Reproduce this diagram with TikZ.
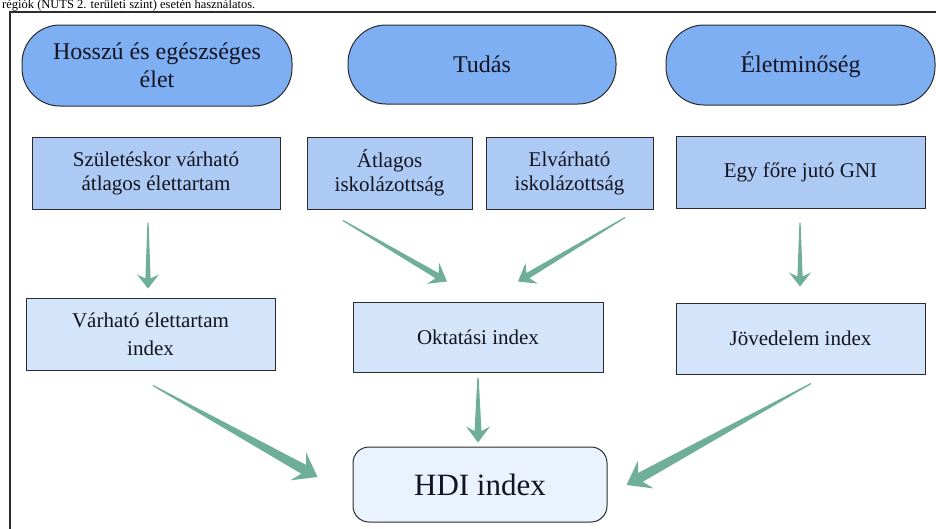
\documentclass[tikz,border=0pt]{standalone}
\usepackage{fontspec}
\setmainfont{Liberation Serif}
\usetikzlibrary{calc}
\definecolor{ellfill}{HTML}{7FAFF3}
\definecolor{boxone}{HTML}{ACCAF4}
\definecolor{boxtwo}{HTML}{D4E4FA}
\definecolor{hdifill}{HTML}{EAF2FD}
\definecolor{arrcol}{HTML}{6FAE99}
\definecolor{edgecol}{HTML}{2B2B2B}
\definecolor{txtcol}{HTML}{141420}
\newcommand\fatarrow[5]{%
  \coordinate (tB) at ($(#2)!#4!(#1)$);
  \coordinate (tJ) at ($(#2)!0.72*#4!(#1)$);
  \fill[arrcol] ($(#1)!0.6pt!90:(#2)$) -- ($(tJ)!#5!90:(#2)$) -- ($(tB)!#3!90:(#2)$) -- (#2)
    -- ($(tB)!#3!-90:(#2)$) -- ($(tJ)!#5!-90:(#2)$) -- ($(#1)!0.6pt!-90:(#2)$) -- cycle;
}
\begin{document}
\begin{tikzpicture}[x=1pt,y=-1pt,
  ell/.style={draw=edgecol, line width=1pt, fill=ellfill, rounded corners=38pt, inner sep=0pt,
    align=center, text=txtcol, font=\fontsize{24}{28}\selectfont},
  boxa/.style={draw=edgecol, line width=1pt, fill=boxone, inner sep=0pt, align=center,
    text=txtcol, font=\fontsize{21}{24}\selectfont},
  boxb/.style={draw=edgecol, line width=1pt, fill=boxtwo, inner sep=0pt, align=center,
    text=txtcol, font=\fontsize{21}{28}\selectfont},
  hdibox/.style={draw=edgecol, line width=1pt, fill=hdifill, rounded corners=16pt, inner sep=0pt,
    align=center, text=txtcol, font=\fontsize{31}{36}\selectfont}]
\useasboundingbox (0,0) rectangle (936,528);
% caption line above the frame
\node[anchor=base west, inner sep=0pt, font=\fontsize{12.5}{13}\selectfont, text=black] (cap) at (2,8.6)
  {régiók (NUTS 2. területi szint) esetén használatos.};
\coordinate (frbl) at (10,530);
\coordinate (frtl) at (10,12);
\coordinate (frtr) at (938,12);
\draw[edgecol, line width=1.1pt] (frbl) -- (frtl) -- (frtr);
% top row
\node[ell, minimum width=270pt, minimum height=81pt] (e1) at (157,65.5) {Hosszú és egészséges\\élet};
\node[ell, minimum width=268pt, minimum height=79pt] (e2) at (482,64.5) {Tudás};
\node[ell, minimum width=269pt, minimum height=80pt] (e3) at (800.5,65) {Életminőség};
% indicator boxes
\node[boxa, minimum width=248pt, minimum height=72pt] (born) at (156,173) {Születéskor várható\\átlagos élettartam};
\node[boxa, minimum width=165pt, minimum height=72pt] (atl) at (389.5,173) {Átlagos\\iskolázottság};
\node[boxa, minimum width=167pt, minimum height=72pt] (elv) at (569.5,173) {Elvárható\\iskolázottság};
\node[boxa, minimum width=249pt, minimum height=72pt] (gni) at (800.5,172) {Egy főre jutó GNI};
% index boxes
\node[boxb, minimum width=249pt, minimum height=72pt] (lifeidx) at (150.5,334) {Várható élettartam\\index};
\node[boxb, minimum width=250pt, minimum height=70pt] (okt) at (478,337) {Oktatási index};
\node[boxb, minimum width=249pt, minimum height=71pt] (inc) at (800.5,338.5) {Jövedelem index};
\node[hdibox, minimum width=254pt, minimum height=75pt] (hdi) at (480,484.5) {HDI index};
% arrow end points
\coordinate (a1s) at ($(born.south)+(-8,13)$);
\coordinate (a1e) at ($(lifeidx.north)+(-2.5,-9)$);
\coordinate (a2s) at ($(atl.south)+(-46.5,11)$);
\coordinate (a2e) at ($(okt.north)+(-31,-20)$);
\coordinate (a3s) at ($(elv.south)+(55.5,8)$);
\coordinate (a3e) at ($(okt.north)+(40,-20)$);
\coordinate (a4s) at ($(gni.south)+(-0.5,14)$);
\coordinate (a4e) at ($(inc.north)+(-0.5,-16)$);
\coordinate (a5s) at ($(lifeidx.south)+(2.5,15)$);
\coordinate (a5e) at ($(hdi.west)+(-35,-7.5)$);
\coordinate (a6s) at ($(okt.south)+(0,5)$);
\coordinate (a6e) at ($(hdi.north)+(-2,-4)$);
\coordinate (a7s) at ($(inc.south)+(10.5,9)$);
\coordinate (a7e) at ($(hdi.east)+(19,0.5)$);
% arrows
\fatarrow{a1s}{a1e}{11pt}{14pt}{2.6pt}
\fatarrow{a2s}{a2e}{12pt}{16pt}{3pt}
\fatarrow{a3s}{a3e}{12pt}{16pt}{3pt}
\fatarrow{a4s}{a4e}{11pt}{14pt}{2.6pt}
\fatarrow{a5s}{a5e}{16pt}{22pt}{5pt}
\fatarrow{a6s}{a6e}{12pt}{16pt}{3.5pt}
\fatarrow{a7s}{a7e}{16pt}{22pt}{5pt}
\end{tikzpicture}
\end{document}
